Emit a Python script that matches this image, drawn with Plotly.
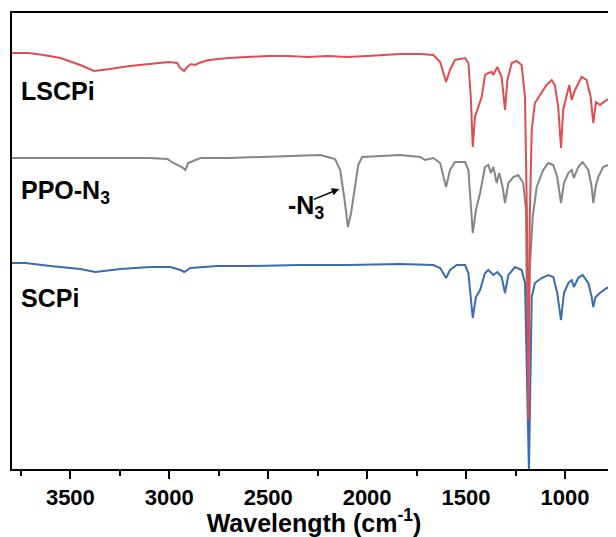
import plotly.graph_objects as go

# Wavenumber (cm-1) and transmittance (a.u., offset per sample)
lscpi_wn = [3795, 3712, 3636, 3550, 3450, 3380, 3300, 3200, 3100, 3000, 2960, 2945, 2925, 2910, 2890,
            2870, 2850, 2800, 2700, 2600, 2500, 2400, 2300, 2200, 2100, 2000, 1900, 1833, 1732, 1665,
            1631, 1601, 1581, 1556, 1505, 1488, 1476, 1466, 1455, 1438, 1421, 1404, 1387, 1370, 1362,
            1342, 1320, 1303, 1291, 1269, 1244, 1219, 1202, 1192, 1185, 1178, 1168, 1152, 1126, 1093,
            1067, 1051, 1034, 1020, 1009, 992, 978, 966, 949, 916, 891, 870, 857, 843, 823, 789, 742]
lscpi_t = [416, 416, 414, 411, 404, 398, 400, 403, 405, 407, 406, 401, 398, 402, 405,
           404, 406, 409, 411, 412, 413, 413, 412, 413, 412, 413, 414, 415, 415, 414,
           407, 387, 399, 409, 411, 406, 372, 322, 352, 362, 372, 394, 396, 397, 394,
           402, 392, 359, 389, 406, 408, 404, 372, 250, 49, 250, 339, 366, 374, 384,
           389, 384, 362, 321, 359, 374, 384, 369, 379, 392, 389, 372, 346, 367, 364, 369, 372]

ppo_wn = [3795, 3700, 3600, 3500, 3400, 3300, 3200, 3100, 3010, 2980, 2936, 2919, 2904, 2869, 2843,
          2700, 2500, 2300, 2237, 2162, 2136, 2116, 2097, 2081, 2061, 2045, 2025, 1900, 1833, 1732,
          1707, 1665, 1631, 1601, 1581, 1556, 1505, 1488, 1476, 1466, 1450, 1429, 1404, 1387, 1375,
          1362, 1345, 1332, 1315, 1303, 1286, 1261, 1236, 1211, 1197, 1188, 1178, 1163, 1143, 1110,
          1084, 1059, 1039, 1020, 1005, 983, 966, 955, 933, 911, 882, 865, 857, 845, 832, 807, 742]
ppo_t = [311, 311, 311, 311, 311, 311, 311, 311, 310, 306, 302, 299, 306, 309, 311,
         311, 312, 313, 314, 310, 299, 272, 242, 256, 282, 304, 312, 313, 314, 312,
         309, 311, 306, 282, 299, 307, 307, 299, 266, 236, 259, 276, 302, 304, 296,
         302, 286, 296, 282, 266, 286, 292, 294, 286, 259, 80, 200, 252, 282, 299,
         306, 304, 292, 266, 286, 296, 299, 291, 302, 307, 299, 282, 266, 282, 292, 302, 307]

scpi_wn = [3795, 3727, 3601, 3450, 3374, 3247, 3096, 2995, 2944, 2924, 2894, 2843, 2758, 2600, 2338,
           2100, 1833, 1665, 1631, 1601, 1581, 1547, 1505, 1488, 1476, 1466, 1450, 1429, 1404, 1387,
           1362, 1342, 1320, 1303, 1286, 1253, 1219, 1202, 1182, 1168, 1152, 1118, 1084, 1059, 1039,
           1020, 1005, 983, 966, 955, 933, 911, 882, 865, 857, 845, 823, 789, 742]
scpi_t = [206, 206, 203, 200, 197, 200, 202, 202, 199, 197, 201, 202, 203, 203, 204,
          204, 205, 204, 201, 191, 199, 204, 204, 196, 172, 151, 172, 179, 196, 199,
          194, 197, 192, 176, 194, 202, 199, 186, -3, 172, 186, 191, 194, 192, 176,
          149, 176, 186, 189, 182, 191, 194, 186, 172, 162, 172, 176, 181, 184]

major_ticks = [3500, 3000, 2500, 2000, 1500, 1000]
minor_ticks = [3750, 3250, 2750, 2250, 1750, 1250, 750]

FONT = "Liberation Sans, Arial, sans-serif"

fig = go.Figure()
fig.add_trace(go.Scatter(x=ppo_wn, y=ppo_t, mode="lines", name="PPO-N3",
                         line=dict(color="#858585", width=2)))
fig.add_trace(go.Scatter(x=scpi_wn, y=scpi_t, mode="lines", name="SCPi",
                         line=dict(color="#3A6CAE", width=2)))
fig.add_trace(go.Scatter(x=lscpi_wn, y=lscpi_t, mode="lines", name="LSCPi",
                         line=dict(color="#DF4D4F", width=2)))

lab_font = dict(family=FONT, size=25, color="black", weight="bold")
fig.add_annotation(x=3758, y=378, text="LSCPi", showarrow=False, xanchor="left",
                   yanchor="middle", font=lab_font)
fig.add_annotation(x=3758, y=277, text="PPO-N<sub>3</sub>", showarrow=False, xanchor="left",
                   yanchor="middle", font=lab_font)
fig.add_annotation(x=3758, y=171, text="SCPi", showarrow=False, xanchor="left",
                   yanchor="middle", font=lab_font)
fig.add_annotation(x=2409, y=262, text="-N<sub>3</sub>", showarrow=False, xanchor="left",
                   yanchor="middle", font=lab_font)
fig.add_annotation(x=2141, y=280, text="", showarrow=True, ax=-27, ay=11,
                   arrowhead=2, arrowsize=1, arrowwidth=1.5, arrowcolor="black")

# the page body adds an 8 px offset, so the figure is 8 px smaller than the window
fig.update_layout(
    width=608, height=529,
    margin=dict(l=4, r=0, t=5, b=68),
    paper_bgcolor="white", plot_bgcolor="white",
    showlegend=False,
    xaxis=dict(
        range=[3795, 742], tickvals=major_ticks, ticks="outside", ticklen=8, tickwidth=2,
        tickcolor="black", showline=True, linewidth=2, linecolor="black", mirror=True,
        showgrid=False, zeroline=False,
        minor=dict(tickvals=minor_ticks, ticks="outside", ticklen=5, tickwidth=2, tickcolor="black"),
        tickfont=dict(family=FONT, size=22, color="black", weight="bold"),
        title=dict(text="Wavelength (cm<sup>-1</sup>)", standoff=1,
                   font=dict(family=FONT, size=25, color="black", weight="bold")),
    ),
    yaxis=dict(
        range=[0, 456], showticklabels=False, ticks="", showline=True, linewidth=2,
        linecolor="black", mirror=False, showgrid=False, zeroline=False,
    ),
)

fig.write_html("out.html")
